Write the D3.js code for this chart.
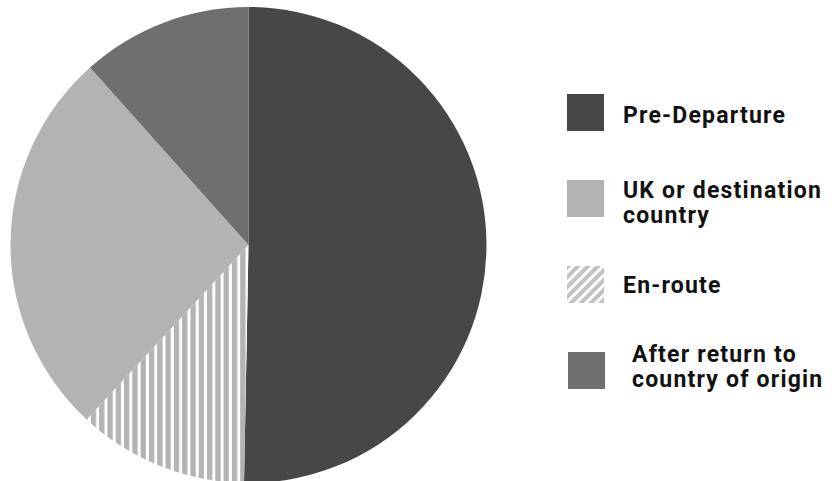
<!DOCTYPE html>
<html>
<head>
<meta charset="utf-8">
<script src="https://cdn.jsdelivr.net/npm/d3@7"></script>
<style>
  body { margin: 0; background: #fff; }
  svg { display: block; }
</style>
</head>
<body>
<svg id="chart" width="835" height="481"></svg>
<script>
const stages = ['Pre-Departure', 'En-route', 'UK or destination country', 'After return to country of origin'];
const shares = [50.3, 11.6, 26.5, 11.6];

// legend order differs from slice order
const legendOrder = ['Pre-Departure', 'UK or destination country', 'En-route', 'After return to country of origin'];
const legendLines = [['Pre-Departure'], ['UK or destination', 'country'], ['En-route'], ['After return to', 'country of origin']];

const fills = {
    'Pre-Departure': '#474747',
    'En-route': 'url(#stripesV)',
    'UK or destination country': '#b3b3b3',
    'After return to country of origin': '#6f6f6f'
};
const legendFills = Object.assign({}, fills, {'En-route': 'url(#stripesD)'});

const svg = d3.select('#chart');
const defs = svg.append('defs');

const pv = defs.append('pattern')
    .attr('id', 'stripesV')
    .attr('patternUnits', 'userSpaceOnUse')
    .attr('width', 8.3)
    .attr('height', 10);
pv.append('rect').attr('width', 8.3).attr('height', 10).attr('fill', '#fff');
pv.append('rect').attr('x', 0).attr('width', 5.3).attr('height', 10).attr('fill', '#b3b3b3');

const pd = defs.append('pattern')
    .attr('id', 'stripesD')
    .attr('patternUnits', 'userSpaceOnUse')
    .attr('width', 7)
    .attr('height', 10)
    .attr('patternTransform', 'rotate(45)');
pd.append('rect').attr('width', 7).attr('height', 10).attr('fill', '#fff');
pd.append('rect').attr('width', 4).attr('height', 10).attr('fill', '#c2c2c2');

const cx = 248.5, cy = 245, radius = 238;

const pie = d3.pie().sort(null).value((d, i) => shares[i]);
const arc = d3.arc().innerRadius(0).outerRadius(radius);

const pieG = svg.append('g')
    .attr('class', 'pie')
    .attr('transform', `translate(${cx}, ${cy})`);

pieG.selectAll('path')
    .data(pie(stages))
    .enter().append('path')
    .attr('d', arc)
    .attr('fill', (d) => fills[d.data])
    .attr('stroke', 'none');

// legend
const legend = svg.append('g').attr('class', 'legend');
const swatchY = [94, 180, 266, 352];
const swatchX = [567, 567, 567, 568];
const textX = [623, 623, 623, 632];
const textY = [123, 198, 293, 362];

legendOrder.forEach((item, i) => {
    const g = legend.append('g');
    g.append('rect')
        .attr('x', swatchX[i])
        .attr('y', swatchY[i])
        .attr('width', 37)
        .attr('height', 37)
        .attr('fill', legendFills[item]);

    const t = g.append('text')
        .attr('x', textX[i])
        .attr('y', textY[i])
        .style('font-family', 'Roboto, sans-serif')
        .style('font-weight', 700)
        .style('font-size', '23px')
        .style('letter-spacing', '1.2px')
        .style('fill', '#111');
    legendLines[i].forEach((line, j) => {
        t.append('tspan')
            .attr('x', textX[i])
            .attr('dy', j === 0 ? 0 : 25)
            .text(line);
    });
});
</script>
</body>
</html>
